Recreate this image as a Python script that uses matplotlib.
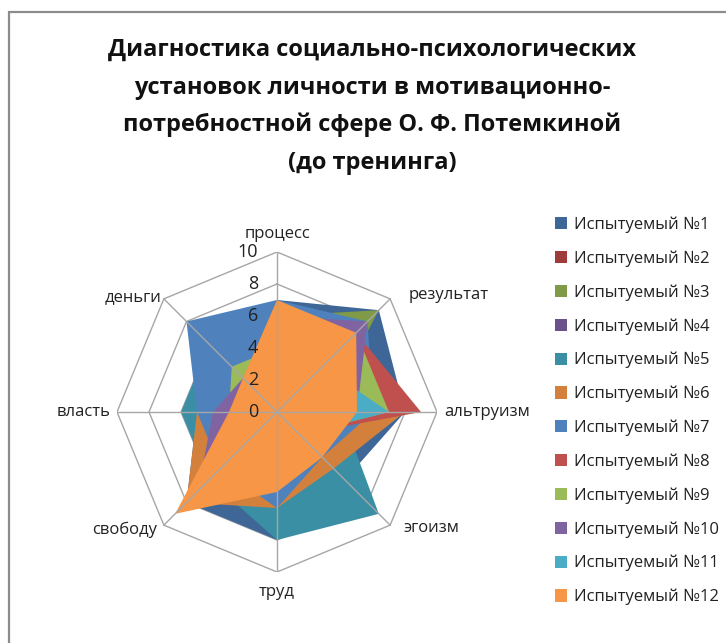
import numpy as np
import matplotlib
matplotlib.use("Agg")
import matplotlib.pyplot as plt
from matplotlib.patches import Rectangle

categories = ["процесс", "результат", "альтруизм", "эгоизм", "труд", "свободу", "власть", "деньги"]
series_names = ["Испытуемый №%d" % i for i in range(1, 13)]

s1 = [7, 9, 8, 6, 8, 8, 5, 6]
s2 = [4, 5, 6, 3, 4, 5, 3, 3]
s3 = [6, 9, 3, 3, 4, 5, 3, 3]
s4 = [5, 6, 4, 3, 4, 6, 3, 3]
s5 = [4, 4, 4, 9, 8, 6, 6, 6]
s6 = [6, 6, 8, 5, 6, 8, 5, 5]
s7 = [7, 8, 6, 4, 6, 5, 5, 8]
s8 = [6, 7, 9, 2, 4, 5, 3, 3]
s9 = [4, 7, 7, 2, 4, 5, 3, 4]
s10 = [6, 8, 5, 3, 4, 7, 4, 3]
s11 = [5, 4, 7, 2, 3, 4, 2, 2]
s12 = [7, 7, 5, 4, 5, 9, 3, 3]
series_values = [s1, s2, s3, s4, s5, s6, s7, s8, s9, s10, s11, s12]

colors = ["#3E6797", "#9D3C3A", "#7F9B48", "#6A518A", "#3A8FA4", "#D4803D",
          "#4F81BD", "#C0504D", "#9BBB59", "#8064A2", "#4BACC6", "#F79646"]

ticks = [0, 2, 4, 6, 8, 10]
rmax = 10

W, H = 726, 643
fig = plt.figure(figsize=(W / 100, H / 100), dpi=100)
fig.patch.set_facecolor("white")

# chart border (cut off at right/bottom like the reference)
fig.patches.append(Rectangle((8.5 / W, -0.05), 1.2, 1 - 12 / H + 0.05, transform=fig.transFigure,
                             fill=False, edgecolor="#8C8C8C", linewidth=1.6))

cx, cy, R = 277, 412, 160
ax = fig.add_axes([(cx - R) / W, 1 - (cy + R) / H, 2 * R / W, 2 * R / H])
ax.set_xlim(-rmax, rmax)
ax.set_ylim(-rmax, rmax)
ax.set_axis_off()

n = len(categories)
ang = np.arange(n) * 2 * np.pi / n
sx, sy = np.sin(ang), np.cos(ang)

grid_color = "#A6A6A6"
for t in ticks[1:]:
    ax.plot(np.append(sx, sx[0]) * t, np.append(sy, sy[0]) * t, color=grid_color, lw=1.0, zorder=1)

handles = []
for vals, col, name in zip(series_values, colors, series_names):
    v = np.array(vals, dtype=float)
    h = ax.fill(np.append(sx * v, sx[0] * v[0]), np.append(sy * v, sy[0] * v[0]),
                facecolor=col, edgecolor="none", zorder=2, label=name)
    handles.append(h[0])

for i in range(n):
    ax.plot([0, sx[i] * rmax], [0, sy[i] * rmax], color=grid_color, lw=1.0, zorder=5)

font = ["Open Sans", "DejaVu Sans"]
for t in ticks:
    ax.annotate(str(t), xy=(0, t), xytext=(-19, 0), textcoords="offset pixels",
                ha="right", va="center", fontsize=13, family=font, color="#222222", zorder=6)

# (ha, va, dx px, dy px) relative to the outer ring vertex
offs = [("center", "center", 0, 18), ("left", "center", 18, 4), ("left", "center", 7, 0),
        ("left", "center", 13, -3), ("center", "center", 0, -20), ("right", "center", -7, -5),
        ("right", "center", -7, 0), ("right", "center", -2, 2)]
for i, c in enumerate(categories):
    ha, va, dx, dy = offs[i]
    ax.annotate(c, xy=(sx[i] * rmax, sy[i] * rmax), xytext=(dx, dy), textcoords="offset pixels",
                ha=ha, va=va, fontsize=12, family=font, color="#222222")

title_lines = ["Диагностика социально-психологических", "установок личности в мотивационно-",
               "потребностной сфере О. Ф. Потемкиной", "(до тренинга)"]
for k, line in enumerate(title_lines):
    fig.text(372 / W, 1 - (50 + 37.5 * k) / H, line, ha="center", va="center",
             fontsize=17, fontweight="bold", family=["Open Sans", "DejaVu Sans"], color="#111111")

leg = fig.legend(handles=handles, labels=series_names, loc="upper left",
                 bbox_to_anchor=(548 / W, 1 - 210 / H), frameon=False,
                 prop={"family": "Open Sans", "size": 12}, handlelength=0.75, handleheight=0.75,
                 handletextpad=0.4, labelspacing=1.04, borderaxespad=0)
for t in leg.get_texts():
    t.set_color("#222222")

fig.savefig("out.png", dpi=100)
